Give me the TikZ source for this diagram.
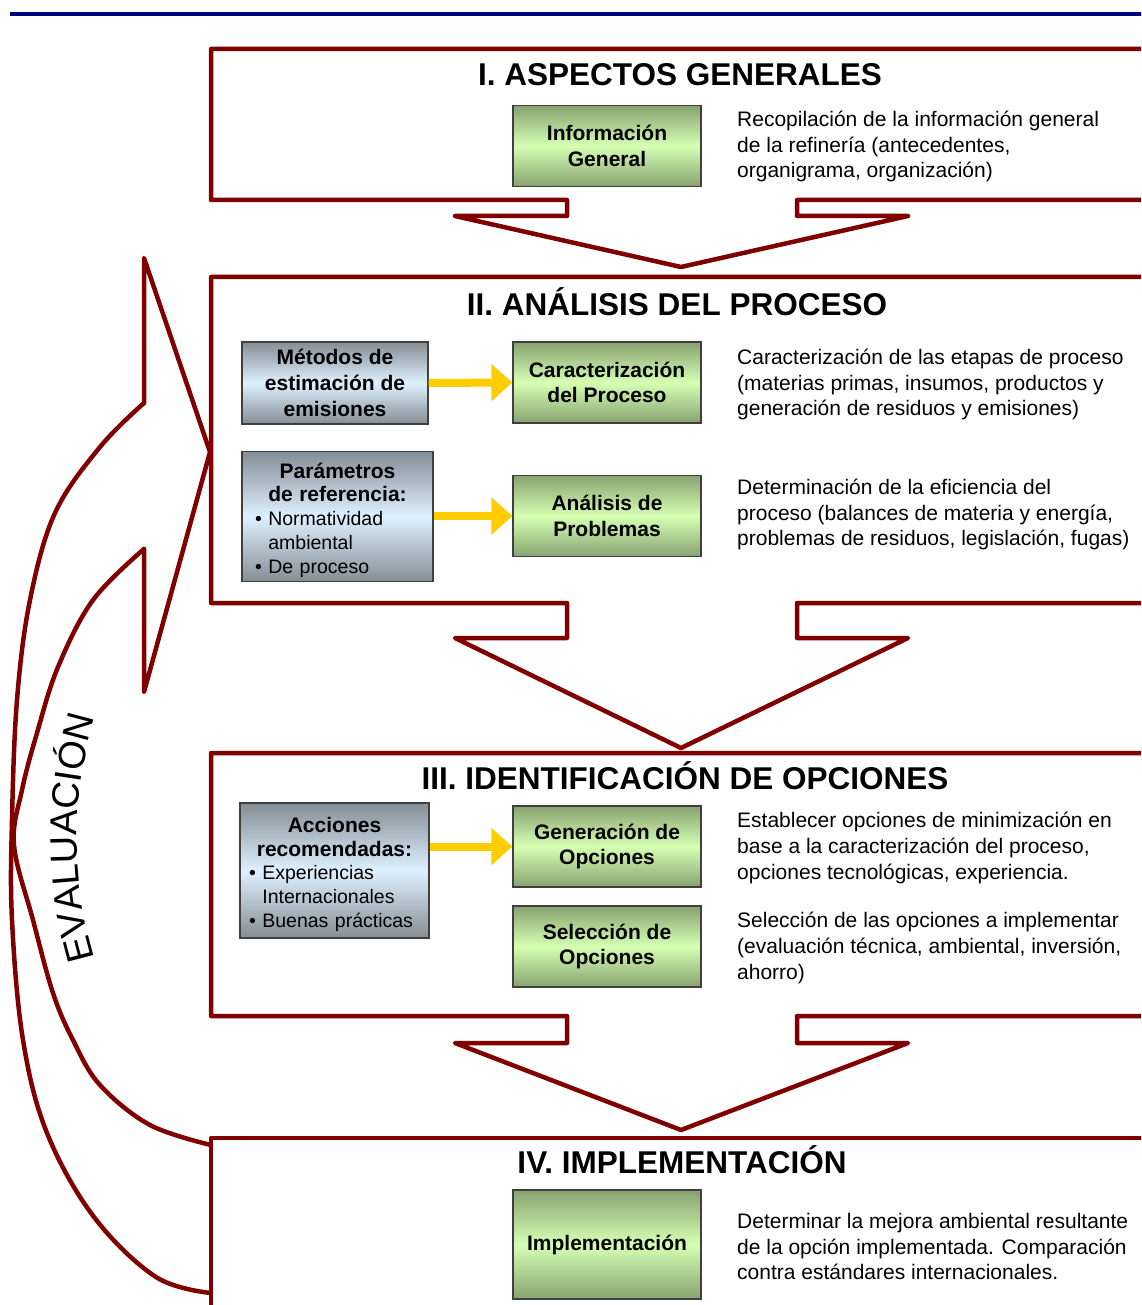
\documentclass[tikz,border=0pt]{standalone}
\usepackage{fontspec}
\setmainfont{Liberation Sans}
\usetikzlibrary{arrows.meta,decorations.text}

\definecolor{rojo}{RGB}{128,0,0}
\definecolor{azul}{RGB}{0,0,128}
\definecolor{amarillo}{RGB}{255,204,0}
\definecolor{verdeosc}{RGB}{136,162,112}
\definecolor{verdecla}{RGB}{214,255,180}
\definecolor{grisosc}{RGB}{132,142,150}
\definecolor{celeste}{RGB}{222,240,255}

\newcommand{\sangria}{\phantom{\textbullet\ }}
\newcommand{\encab}[1]{\makebox[\linewidth]{\bfseries\fontsize{21}{23.8}\selectfont #1}}

\begin{document}
\begin{tikzpicture}[
        x=1pt, y=-1pt,
        marco/.style={draw=rojo, line width=4.5pt, line join=round, line cap=round},
        verde/.style={
            rectangle, draw=black!75, line width=1.2pt,
            top color=verdeosc, bottom color=verdeosc, middle color=verdecla,
            minimum width=188pt, minimum height=81pt, align=center,
            font=\bfseries\fontsize{21}{25.5}\selectfont
        },
        gris/.style={
            rectangle, draw=black!75, line width=1.2pt,
            top color=grisosc, bottom color=grisosc, middle color=celeste,
            align=center, font=\bfseries\fontsize{21}{26}\selectfont
        },
        lista/.style={align=left, font=\fontsize{19.5}{23.8}\selectfont},
        titulo/.style={anchor=base, inner sep=0pt, font=\bfseries\fontsize{31.5}{36}\selectfont},
        desc/.style={anchor=west, inner sep=0pt, align=left, font=\fontsize{21}{25.7}\selectfont},
        flecha/.style={draw=amarillo, line width=8pt, -{Triangle[length=21pt,width=36pt]}}
    ]
        \clip (0,0) rectangle (1141,1305);

        % Linea superior
        \draw[azul, line width=4pt] (10,14) -- (1150,14);

        % Marcos de las etapas
        \draw[marco] (1150,49) -- (211,49) -- (211,200) -- (567,200) -- (567,216) -- (455,216)
            -- (681,267) -- (908,216) -- (797,216) -- (797,200) -- (1150,200);
        \draw[marco] (1150,277) -- (211,277) -- (211,603) -- (567,603) -- (567,638) -- (455,638)
            -- (681,748) -- (908,638) -- (797,638) -- (797,603) -- (1150,603);
        \draw[marco] (1150,753) -- (211,753) -- (211,1016) -- (567,1016) -- (567,1043) -- (455,1043)
            -- (681,1130) -- (908,1043) -- (797,1043) -- (797,1016) -- (1150,1016);
        \draw[marco] (1150,1138) -- (211,1138) -- (211,1315);

        % Flecha curva de evaluacion
        \draw[marco] (144,403) -- (144,258) -- (210,452) -- (144,692) -- (144,549);
        \draw[marco] plot[smooth, tension=0.6] coordinates {(144,403) (100,447) (55,513) (30,600)
            (17,700) (12,820) (12,920) (23,1040) (47,1133) (94,1217) (156,1277) (211,1293)};
        \draw[marco] plot[smooth, tension=0.6] coordinates {(144,549) (93,600) (58,667) (37,733)
            (22,790) (14,845) (33,920) (53,993) (73,1040) (100,1085) (150,1125) (211,1145)};
        \path[decorate, decoration={text along path, text align=center,
                text={|\fontsize{38}{40}\selectfont|EVALUACIÓN}}]
            (97,968) .. controls (70,882) and (70,796) .. (98,708);

        % Titulos
        \node[titulo] (t1) at (680,86) {I. ASPECTOS GENERALES};
        \node[titulo] (t2) at (677,316) {II. ANÁLISIS DEL PROCESO};
        \node[titulo] (t3) at (685,789) {III. IDENTIFICACIÓN DE OPCIONES};
        \node[titulo] (t4) at (682,1173) {IV. IMPLEMENTACIÓN};

        % Etapa I
        \node[verde] (info) at (607,146) {Información\\General};
        \node[desc] (d1) at (737,146.5) {Recopilación de la información general\\
            de la refinería (antecedentes,\\organigrama, organización)};

        % Etapa II
        \node[gris, minimum width=186pt, minimum height=82pt] (met) at (335,383)
            {Métodos de\\estimación de\\emisiones};
        \node[gris, lista, text width=165pt, inner xsep=13pt, minimum height=130pt] (par) at (337.5,516.5) {
            \encab{\rule{0pt}{22.5pt}Parámetros}\\
            \encab{de referencia:}\\
            \textbullet\ Normatividad\\
            \sangria ambiental\\
            \textbullet\ De proceso};
        \node[verde] (car) at (607,382.5) {Caracterización\\del Proceso};
        \node[verde] (ana) at (607,516) {Análisis de\\Problemas};
        \node[desc] (d2) at (737,384.5) {Caracterización de las etapas de proceso\\
            (materias primas, insumos, productos y\\generación de residuos y emisiones)};
        \node[desc] (d3) at (737,514.5) {Determinación de la eficiencia del\\
            proceso (balances de materia y energía,\\problemas de residuos, legislación, fugas)};
        \draw[flecha] (met.east) -- (car.west);
        \draw[flecha] (par.east |- ana.west) -- (ana.west);

        % Etapa III
        \node[gris, lista, text width=171pt, inner xsep=9pt, minimum height=135pt] (acc) at (334.5,870.5) {
            \encab{\rule{0pt}{23pt}Acciones}\\
            \encab{recomendadas:}\\
            \textbullet\ Experiencias\\
            \sangria Internacionales\\
            \textbullet\ Buenas prácticas};
        \node[verde] (gen) at (607,846.5) {Generación de\\Opciones};
        \node[verde] (sel) at (607,946.5) {Selección de\\Opciones};
        \node[desc] (d4) at (737,848) {Establecer opciones de minimización en\\
            base a la caracterización del proceso,\\opciones tecnológicas, experiencia.};
        \node[desc] (d5) at (737,948) {Selección de las opciones a implementar\\
            (evaluación técnica, ambiental, inversión,\\ahorro)};
        \draw[flecha] (acc.east |- gen.west) -- (gen.west);

        % Etapa IV
        \node[verde, minimum height=109pt] (imp) at (607,1244.5) {Implementación};
        \node[desc] (d6) at (737,1246.5) {Determinar la mejora ambiental resultante\\
            de la opción implementada. Comparación\\contra estándares internacionales.};
    \end{tikzpicture}
\end{document}
